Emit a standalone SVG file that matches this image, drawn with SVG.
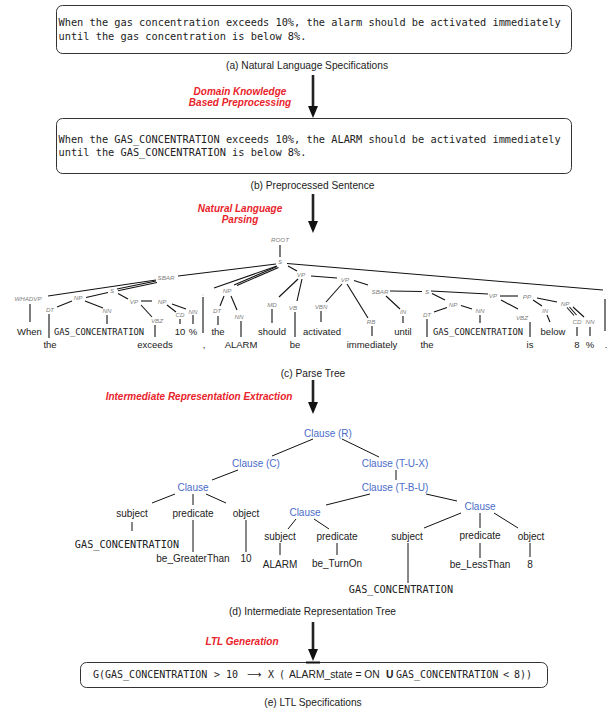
<svg xmlns="http://www.w3.org/2000/svg" width="609" height="708" viewBox="0 0 609 708">
<defs>
<style>
.box{fill:#fff;stroke:#333;stroke-width:1}
.mono{font-family:"DejaVu Sans Mono","Liberation Mono",monospace;fill:#222}
.bx{font-size:10.3px}
.cap{font-family:"Liberation Sans",Arial,sans-serif;font-size:10.2px;fill:#222;text-anchor:middle}
.red{font-family:"Liberation Sans",Arial,sans-serif;font-size:10px;font-weight:bold;font-style:italic;fill:#e8232b;text-anchor:middle}
.tag{font-family:"Liberation Sans",Arial,sans-serif;font-size:6.2px;font-style:italic;fill:#808080;text-anchor:middle}
.w{font-family:"Liberation Sans",Arial,sans-serif;font-size:9.5px;fill:#222;text-anchor:middle}
.wm{font-family:"DejaVu Sans Mono","Liberation Mono",monospace;font-size:8.8px;fill:#222}
.cl{font-family:"Liberation Sans",Arial,sans-serif;font-size:10px;fill:#4a6cc8;text-anchor:middle}
.ir{font-family:"Liberation Sans",Arial,sans-serif;font-size:10px;fill:#222;text-anchor:middle}
.irm{font-family:"DejaVu Sans Mono","Liberation Mono",monospace;font-size:10.2px;fill:#222;text-anchor:middle}
.flow{stroke:#222;stroke-width:2.6;fill:none}
.pt line{stroke:#111;stroke-width:1.1}
.irl line{stroke:#111;stroke-width:1}
</style>
<marker id="ah" markerUnits="userSpaceOnUse" markerWidth="13" markerHeight="11" refX="6" refY="5" orient="auto">
<path d="M0,0 L12,5 L0,10 z" fill="#111"/>
</marker>
</defs>
<rect width="609" height="708" fill="#fff"/>

<!-- (a) -->
<g id="nl-spec">
<rect class="box" x="56.5" y="5.5" width="515" height="48" rx="6"/>
<text class="mono bx" x="58.5" y="26.3">When the gas concentration exceeds 10%, the alarm should be activated immediately</text>
<text class="mono bx" x="58.5" y="39.8">until the gas concentration is below 8%.</text>
<text class="cap" x="307" y="68.5">(a) Natural Language Specifications</text>
</g>

<!-- (b) -->
<g id="preprocessed">
<rect class="box" x="56.5" y="118.5" width="515" height="55" rx="6"/>
<text class="mono bx" x="58.5" y="142.5">When the GAS_CONCENTRATION exceeds 10%, the ALARM should be activated immediately</text>
<text class="mono bx" x="58.5" y="156.3">until the GAS_CONCENTRATION is below 8%.</text>
<text class="cap" x="312.5" y="188.5">(b) Preprocessed Sentence</text>
</g>

<g id="step-labels">
<text class="red" x="240" y="94.5">Domain Knowledge</text>
<text class="red" x="240" y="106">Based Preprocessing</text>
<text class="red" x="240" y="211.5">Natural Language</text>
<text class="red" x="240" y="222.5">Parsing</text>
<text class="red" x="199" y="399.5">Intermediate Representation Extraction</text>
<text class="red" x="242" y="644.5">LTL Generation</text>
</g>

<!-- (c) parse tree nodes -->
<g id="parse-tree">
<g id="pt-root"><text class="tag" x="280" y="242.2">ROOT</text></g>
<g id="pt-s"><text class="tag" x="280" y="264.2">S</text></g>
<g id="pt-sbar"><text class="tag" x="166" y="280.2">SBAR</text></g>
<g id="pt-whadvp"><text class="tag" x="28" y="301.2">WHADVP</text></g>
<g id="pt-s1"><text class="tag" x="112" y="293.2">S</text></g>
<g id="pt-np1"><text class="tag" x="78" y="300.2">NP</text></g>
<g id="pt-dt1"><text class="tag" x="50" y="312.2">DT</text></g>
<g id="pt-nn1"><text class="tag" x="107" y="313.2">NN</text></g>
<g id="pt-vp1"><text class="tag" x="134" y="304.2">VP</text></g>
<g id="pt-np2"><text class="tag" x="162" y="304.2">NP</text></g>
<g id="pt-vbz1"><text class="tag" x="157" y="323.2">VBZ</text></g>
<g id="pt-cd1"><text class="tag" x="180" y="317.2">CD</text></g>
<g id="pt-nn2"><text class="tag" x="193" y="314.2">NN</text></g>
<g id="pt-comma"><text class="tag" x="203" y="295.2">,</text></g>
<g id="pt-np3"><text class="tag" x="227" y="293.2">NP</text></g>
<g id="pt-dt2"><text class="tag" x="217" y="313.2">DT</text></g>
<g id="pt-nn3"><text class="tag" x="239" y="319.2">NN</text></g>
<g id="pt-vp2"><text class="tag" x="301" y="277.2">VP</text></g>
<g id="pt-md"><text class="tag" x="272" y="307.2">MD</text></g>
<g id="pt-vb"><text class="tag" x="293" y="310.2">VB</text></g>
<g id="pt-vp3"><text class="tag" x="345" y="282.2">VP</text></g>
<g id="pt-vbn"><text class="tag" x="321" y="309.2">VBN</text></g>
<g id="pt-rb"><text class="tag" x="371" y="324.2">RB</text></g>
<g id="pt-sbar2"><text class="tag" x="380" y="294.2">SBAR</text></g>
<g id="pt-in1"><text class="tag" x="403" y="314.2">IN</text></g>
<g id="pt-s2"><text class="tag" x="427" y="294.2">S</text></g>
<g id="pt-np4"><text class="tag" x="453" y="307.2">NP</text></g>
<g id="pt-dt3"><text class="tag" x="427" y="317.2">DT</text></g>
<g id="pt-nn4"><text class="tag" x="480" y="313.2">NN</text></g>
<g id="pt-vp4"><text class="tag" x="493" y="298.2">VP</text></g>
<g id="pt-pp"><text class="tag" x="527" y="299.2">PP</text></g>
<g id="pt-vbz2"><text class="tag" x="522" y="320.2">VBZ</text></g>
<g id="pt-in2"><text class="tag" x="545" y="313.2">IN</text></g>
<g id="pt-np5"><text class="tag" x="565" y="306.2">NP</text></g>
<g id="pt-cd2"><text class="tag" x="577" y="324.2">CD</text></g>
<g id="pt-nn5"><text class="tag" x="590" y="324.2">NN</text></g>
<g id="pt-period"><text class="tag" x="604" y="295.2">.</text></g>

<g id="pt-words">
<text class="w" x="29.5" y="334.5">When</text>
<text class="w" x="50" y="347.5">the</text>
<text class="wm" x="54" y="334.5">GAS_CONCENTRATION</text>
<text class="w" x="155" y="347.5">exceeds</text>
<text class="w" x="180" y="334.5">10</text>
<text class="w" x="193" y="334.5">%</text>
<text class="w" x="204" y="347.5">,</text>
<text class="w" x="218" y="334.5">the</text>
<text class="w" x="241" y="347.5">ALARM</text>
<text class="w" x="272" y="334.5">should</text>
<text class="w" x="295" y="347.5">be</text>
<text class="w" x="322" y="334.5">activated</text>
<text class="w" x="372" y="347.5">immediately</text>
<text class="w" x="403" y="334.5">until</text>
<text class="w" x="427" y="347.5">the</text>
<text class="wm" x="433" y="334.5">GAS_CONCENTRATION</text>
<text class="w" x="530" y="347.5">is</text>
<text class="w" x="553" y="334.5">below</text>
<text class="w" x="577" y="347.5">8</text>
<text class="w" x="590" y="347.5">%</text>
<text class="w" x="606" y="347.5">.</text>
</g>
<text class="cap" x="313" y="376.5">(c) Parse Tree</text>
</g>

<!-- (d) IR tree nodes -->
<g id="ir-tree">
<g id="ir-r"><text class="cl" x="328" y="436.5">Clause (R)</text></g>
<g id="ir-c"><text class="cl" x="256" y="466.5">Clause (C)</text></g>
<g id="ir-tux"><text class="cl" x="395" y="466.5">Clause (T-U-X)</text></g>
<g id="ir-cl1"><text class="cl" x="193" y="490.5">Clause</text></g>
<g id="ir-tbu"><text class="cl" x="395" y="490.5">Clause (T-B-U)</text></g>
<g id="ir-cl2"><text class="cl" x="305" y="515.5">Clause</text></g>
<g id="ir-cl3"><text class="cl" x="480" y="509.5">Clause</text></g>
<g id="ir-subj1"><text class="ir" x="132" y="516.5">subject</text></g>
<g id="ir-pred1"><text class="ir" x="193" y="516.5">predicate</text></g>
<g id="ir-obj1"><text class="ir" x="246" y="516.5">object</text></g>
<g id="ir-gas1"><text class="irm" x="127" y="547.5">GAS_CONCENTRATION</text></g>
<g id="ir-gt"><text class="ir" x="193" y="561.5">be_GreaterThan</text></g>
<g id="ir-10"><text class="ir" x="246" y="561.5">10</text></g>
<g id="ir-subj2"><text class="ir" x="280" y="539.5">subject</text></g>
<g id="ir-pred2"><text class="ir" x="337" y="539.5">predicate</text></g>
<g id="ir-alarm"><text class="ir" x="280" y="567.5">ALARM</text></g>
<g id="ir-turnon"><text class="ir" x="337" y="566.5">be_TurnOn</text></g>
<g id="ir-subj3"><text class="ir" x="407" y="539.5">subject</text></g>
<g id="ir-pred3"><text class="ir" x="480" y="538.5">predicate</text></g>
<g id="ir-obj3"><text class="ir" x="531" y="539.5">object</text></g>
<g id="ir-gas2"><text class="irm" x="401" y="592.5">GAS_CONCENTRATION</text></g>
<g id="ir-lt"><text class="ir" x="480" y="567.5">be_LessThan</text></g>
<g id="ir-8"><text class="ir" x="530" y="567.5">8</text></g>
<text class="cap" x="312.5" y="614.5">(d) Intermediate Representation Tree</text>
</g>

<!-- (e) -->
<g id="ltl-spec">
<rect class="box" x="80.5" y="662.5" width="467" height="25" rx="6"/>
<text class="mono" font-size="10" y="678"><tspan x="93">G(GAS_CONCENTRATION</tspan><tspan x="214">&gt;</tspan><tspan x="226">10</tspan><tspan x="268">X</tspan><tspan x="279">(</tspan><tspan x="396">GAS_CONCENTRATION</tspan><tspan x="503">&lt;</tspan><tspan x="514">8))</tspan></text>
<text font-family="DejaVu Sans,sans-serif" font-size="10" fill="#222" x="247" y="678">⟶</text>
<text font-family="Liberation Sans,Arial,sans-serif" font-size="10.3" fill="#222" x="289" y="678">ALARM_state = ON</text>
<text font-family="Liberation Sans,Arial,sans-serif" font-size="10.3" font-weight="bold" fill="#222" x="386" y="678">U</text>
<text class="cap" x="313" y="705.5">(e) LTL Specifications</text>
</g>

<!-- connectors -->
<g id="connectors">
<g id="flow-arrows">
<line class="flow" x1="313" y1="75" x2="313" y2="112" marker-end="url(#ah)"/>
<line class="flow" x1="313" y1="194" x2="313" y2="227" marker-end="url(#ah)"/>
<line class="flow" x1="313" y1="380" x2="313" y2="408" marker-end="url(#ah)"/>
<line class="flow" x1="313" y1="622" x2="313" y2="655" marker-end="url(#ah)"/>
<line x1="306" y1="662.5" x2="320" y2="662.5" stroke="#111" stroke-width="2"/>
</g>
<g class="pt">
<line x1="280" y1="245" x2="280" y2="257"/>
<line x1="276" y1="264" x2="178" y2="276"/>
<line x1="156" y1="280" x2="48" y2="296"/>
<line x1="156" y1="281" x2="117" y2="289"/>
<line x1="157" y1="282.5" x2="118" y2="290.8"/>
<line x1="108" y1="292.5" x2="86" y2="297.5"/>
<line x1="118" y1="293.5" x2="128" y2="299"/>
<line x1="141" y1="301" x2="152" y2="301"/>
<line x1="141" y1="305" x2="152" y2="317"/>
<line x1="167" y1="305" x2="176" y2="312"/>
<line x1="172" y1="304" x2="186" y2="309"/>
<line x1="72" y1="301" x2="57" y2="307"/>
<line x1="85" y1="301" x2="103" y2="308"/>
<line x1="30" y1="304" x2="30" y2="322"/>
<line x1="49" y1="314" x2="49" y2="338"/>
<line x1="107" y1="315" x2="107" y2="324"/>
<line x1="155" y1="325" x2="155" y2="337"/>
<line x1="180" y1="319" x2="180" y2="324"/>
<line x1="193" y1="315" x2="193" y2="324"/>
<line x1="277" y1="266" x2="214" y2="288"/>
<line x1="203" y1="297" x2="203" y2="333"/>
<line x1="277" y1="266.5" x2="234" y2="285"/>
<line x1="278.5" y1="267.5" x2="237" y2="285.5"/>
<line x1="224" y1="296" x2="220" y2="306"/>
<line x1="231" y1="296" x2="237" y2="310"/>
<line x1="218" y1="316" x2="218" y2="325"/>
<line x1="241" y1="321" x2="241" y2="337"/>
<line x1="288" y1="266" x2="297" y2="271"/>
<line x1="287" y1="263.5" x2="603" y2="290"/>
<line x1="605" y1="299" x2="605" y2="331"/>
<line x1="298" y1="279" x2="279" y2="297"/>
<line x1="302" y1="279" x2="297" y2="301"/>
<line x1="272" y1="309" x2="272" y2="323"/>
<line x1="295" y1="312" x2="295" y2="337"/>
<line x1="311" y1="276" x2="337" y2="278"/>
<line x1="342" y1="284" x2="326" y2="302"/>
<line x1="347" y1="284" x2="368" y2="318"/>
<line x1="321" y1="311" x2="321" y2="322"/>
<line x1="372" y1="326" x2="372" y2="336"/>
<line x1="354" y1="280.5" x2="368" y2="285"/>
<line x1="386" y1="296" x2="400" y2="309"/>
<line x1="403" y1="316" x2="403" y2="323"/>
<line x1="390" y1="291" x2="422" y2="291.5"/>
<line x1="432" y1="293.5" x2="445" y2="300"/>
<line x1="447" y1="307.5" x2="434" y2="312"/>
<line x1="461" y1="305.5" x2="472" y2="309"/>
<line x1="427" y1="319" x2="427" y2="337"/>
<line x1="480" y1="315" x2="480" y2="323"/>
<line x1="431" y1="291" x2="488" y2="294"/>
<line x1="500" y1="296" x2="518" y2="296"/>
<line x1="501" y1="300" x2="518" y2="309"/>
<line x1="530" y1="322" x2="530" y2="337"/>
<line x1="533" y1="300" x2="542" y2="306"/>
<line x1="547" y1="315" x2="550" y2="322"/>
<line x1="537" y1="298" x2="557" y2="302"/>
<line x1="567" y1="307.5" x2="574" y2="315.5"/>
<line x1="569.5" y1="307" x2="576.5" y2="315"/>
<line x1="573" y1="307" x2="584" y2="317"/>
<line x1="577" y1="327" x2="577" y2="336"/>
<line x1="590" y1="327" x2="590" y2="336"/>
</g>
<g class="irl">
<line x1="313" y1="439" x2="272" y2="456"/>
<line x1="342" y1="439" x2="379" y2="457"/>
<line x1="238" y1="470" x2="212" y2="480"/>
<line x1="396" y1="470" x2="396" y2="480"/>
<line x1="175" y1="494" x2="152" y2="503"/>
<line x1="193" y1="494" x2="193" y2="505"/>
<line x1="206" y1="494" x2="226" y2="503"/>
<line x1="370" y1="494" x2="326" y2="505"/>
<line x1="426" y1="494" x2="457" y2="501"/>
<line x1="132" y1="522" x2="132" y2="531"/>
<line x1="193" y1="520" x2="193" y2="552"/>
<line x1="246" y1="520" x2="246" y2="552"/>
<line x1="296" y1="519" x2="288" y2="529"/>
<line x1="314" y1="519" x2="329" y2="529"/>
<line x1="280" y1="543" x2="280" y2="555"/>
<line x1="337" y1="543" x2="337" y2="555"/>
<line x1="461" y1="513" x2="424" y2="528"/>
<line x1="480" y1="513" x2="480" y2="528"/>
<line x1="494" y1="513" x2="518" y2="528"/>
<line x1="408" y1="543" x2="408" y2="583"/>
<line x1="480" y1="543" x2="480" y2="558"/>
<line x1="530" y1="543" x2="530" y2="557"/>
</g>
</g>
</svg>
